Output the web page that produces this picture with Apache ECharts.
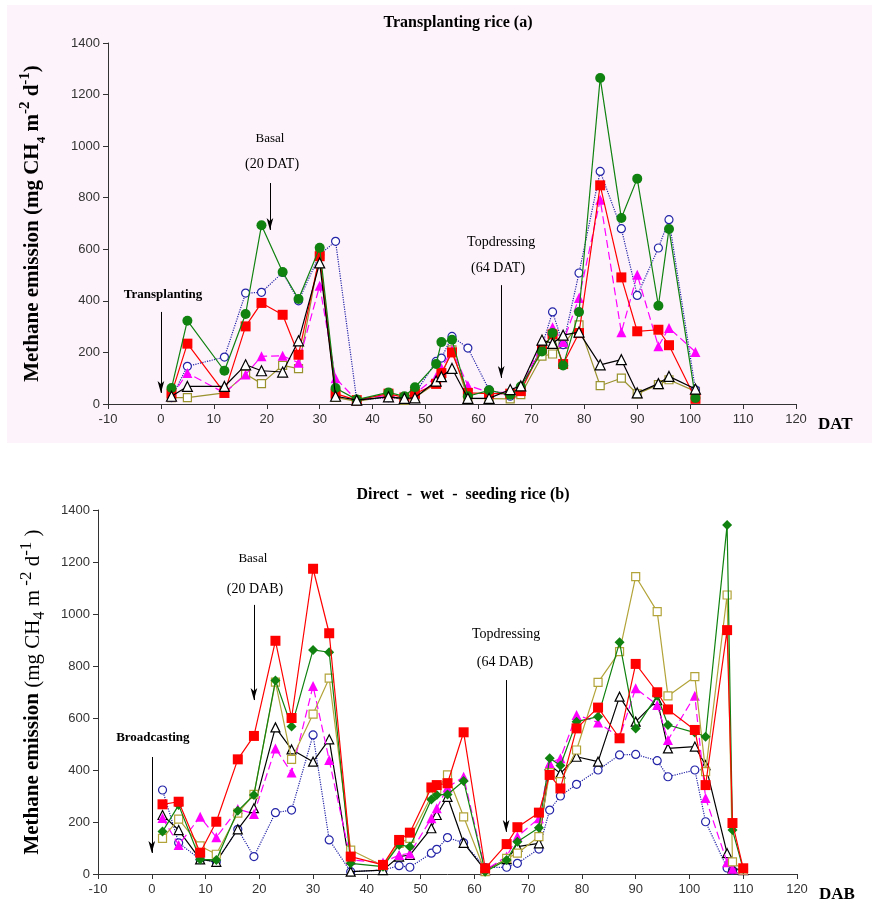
<!DOCTYPE html>
<html><head><meta charset="utf-8">
<script src="https://cdn.jsdelivr.net/npm/echarts@6/dist/echarts.min.js"></script>
<style>html,body{margin:0;padding:0;background:#fff}#c{width:872px;height:904px}</style>
</head><body><div id="c"></div>
<script>
// ---- Panel (a): Transplanting rice ----
const xA = [2,5,12,16,19,23,26,30,33,37,43,46,48,52,53,55,58,62,66,68,72,74,76,79,83,87,90,94,96,101];
const aGreen   = [62,323,129,349,693,512,407,606,62,17,45,30,65,155,240,249,30,53,36,68,204,275,149,357,1264,721,874,381,679,23];
const aRed     = [40,234,43,301,392,346,191,573,40,15,40,25,40,78,120,200,43,40,40,50,215,270,155,275,848,491,282,288,228,20];
const aMagenta = [30,120,43,114,185,187,160,459,100,15,35,25,40,105,140,209,72,45,45,60,235,298,240,411,792,278,501,224,295,202];
const aBlue    = [25,146,182,430,433,510,400,579,631,15,25,20,40,165,178,262,217,55,30,55,224,357,230,508,902,680,421,605,715,55];
const aBlack   = [30,68,68,152,129,124,245,547,30,15,28,22,24,89,106,138,22,22,56,70,248,235,267,279,152,172,43,79,107,58];
const aOlive   = [25,25,43,116,79,150,137,579,26,10,30,15,25,80,110,210,22,21,20,36,186,194,231,307,71,100,39,75,94,49];

// ---- Panel (b): Direct-wet-seeding rice ----
const xB = [2,5,9,12,16,19,23,26,30,33,37,43,46,48,52,53,55,58,62,66,68,72,74,76,79,83,87,90,94,96,101,103,107,108,110];
const bRed     = [268,278,82,201,441,531,897,600,1174,926,67,35,131,159,333,342,349,545,22,115,180,236,381,329,560,640,522,808,699,633,554,342,938,196,22];
const bGreen   = [163,265,56,54,243,304,744,567,862,853,41,28,112,105,287,304,306,358,9,54,124,178,445,417,586,605,891,560,686,573,544,528,1342,169,19];
const bOlive   = [137,211,108,76,234,306,738,441,615,753,92,32,118,137,300,323,381,220,9,60,80,144,390,355,477,737,855,1144,1009,685,759,394,1073,47,15];
const bMagenta = [215,112,220,141,250,231,483,390,723,438,54,44,73,79,214,253,333,374,15,67,144,214,426,445,612,583,526,714,650,515,686,292,45,20,15];
const bBlue    = [323,120,56,47,172,67,236,246,535,131,9,15,32,26,80,95,140,120,25,26,41,96,246,300,345,400,458,460,436,374,400,201,23,15,15];
const bBlack   = [227,169,56,47,172,253,564,479,432,518,9,15,67,73,176,227,297,120,15,57,105,118,419,387,451,432,682,586,669,483,490,419,80,22,15];

const xTicksMin = -10, xTicksMax = 120, xStep = 10;
const yTicksMin = 0, yTicksMax = 1400, yStep = 200;

// annotations (data coordinates)
const annA = [
  {x:0.4, y:423, text:'Transplanting', bold:true, size:13},
  {x:20.6, y:1031, text:'Basal', size:13},
  {x:21, y:930, text:'(20 DAT)', size:14},
  {x:64.3, y:628, text:'Topdressing', size:14},
  {x:63.7, y:527, text:'(64 DAT)', size:14}
];
const arrowsA = [[0,357,0,43],[20.6,857,20.6,675],[64.3,461,64.3,101]];
const annB = [
  {x:0.2, y:523, text:'Broadcasting', bold:true, size:13},
  {x:18.8, y:1215, text:'Basal', size:13},
  {x:19.2, y:1096, text:'(20 DAB)', size:14},
  {x:65.9, y:923, text:'Topdressing', size:14},
  {x:65.7, y:815, text:'(64 DAB)', size:14}
];
const arrowsB = [[0,450,0,81],[19,1035,19,669],[65.9,746,65.9,162]];

const pair = (xs, ys) => xs.map((x,i)=>[x, ys[i]]);
const serif = '"Liberation Serif","DejaVu Serif",serif';
const sans = '"Liberation Sans",Arial,sans-serif';

function xAxis(gi, name){
  return {gridIndex:gi, type:'value', min:xTicksMin, max:xTicksMax, interval:xStep,
    axisLine:{show:true, onZero:false, lineStyle:{color:'#333', width:1}},
    axisTick:{show:true, inside:false, length:5, lineStyle:{color:'#333'}},
    axisLabel:{color:'#333', fontSize:13, fontFamily:sans, margin:9, formatter:v=>String(v)},
    splitLine:{show:false},
    name:name, nameLocation:'end', nameGap:22,
    nameTextStyle:{fontFamily:serif, fontWeight:'bold', fontSize:17, color:'#000', verticalAlign:'top', padding:[12,0,0,0]}
  };
}
function yAxis(gi, name, gap, rich){
  return {gridIndex:gi, type:'value', min:yTicksMin, max:yTicksMax, interval:yStep,
    axisLine:{show:true, onZero:false, lineStyle:{color:'#333', width:1}},
    axisTick:{show:true, length:5, lineStyle:{color:'#333'}},
    axisLabel:{color:'#333', fontSize:13, fontFamily:sans, margin:8, formatter:v=>String(v)},
    splitLine:{show:false},
    name:name, nameLocation:'middle', nameGap:gap, nameRotate:90,
    nameTextStyle:{rich:rich}
  };
}
const richA = {
  b:{fontFamily:serif, fontWeight:'bold', fontSize:21, color:'#000', lineHeight:30},
  sub:{fontFamily:serif, fontWeight:'bold', fontSize:13, color:'#000', lineHeight:30, verticalAlign:'bottom'},
  sup:{fontFamily:serif, fontWeight:'bold', fontSize:15, color:'#000', lineHeight:30, verticalAlign:'top'}
};
const richB = {
  b:{fontFamily:serif, fontWeight:'bold', fontSize:21, color:'#000', lineHeight:30},
  r:{fontFamily:serif, fontSize:21, color:'#000', lineHeight:30},
  sub:{fontFamily:serif, fontSize:16, color:'#000', lineHeight:30, verticalAlign:'bottom'},
  sup:{fontFamily:serif, fontSize:17, color:'#000', lineHeight:30, verticalAlign:'top'}
};
const nameA = '{b|Methane emission (mg CH}{sub|4}{b| m}{sup|-2}{b| d}{sup|-1}{b|)}';
const nameB = '{b|Methane emission }{r|(mg CH}{sub|4}{r| m}{sup| -2}{r| d}{sup|-1}{r| )}';

function ser(gi, xs, ys, color, symbol, size, filled, lineType, z){
  return {type:'line', xAxisIndex:gi, yAxisIndex:gi, data:pair(xs, ys), z:z,
    symbol:symbol, symbolSize:size, showSymbol:true, animation:false,
    lineStyle:{color:color, width:1.2, type:lineType},
    itemStyle:{color: filled ? color : '#fff', borderColor:color, borderWidth: filled ? 0 : 1.2}
  };
}
function arrowSeries(gi, arrows){
  return {type:'line', xAxisIndex:gi, yAxisIndex:gi, data:[], silent:true, animation:false,
    markLine:{silent:true, animation:false, symbol:['none','arrow'], symbolSize:[5,12],
      lineStyle:{color:'#000', width:1, type:'solid'}, label:{show:false},
      data: arrows.map(a=>[{coord:[a[0],a[1]]},{coord:[a[2],a[3]]}])}
  };
}

const greenA='#0f820f', redA='#ff0000', magA='#ff00ff', blueA='#2424a8', blackA='#000000', oliveA='#99922e';
const oliveB='#b3a43a';

const series = [
  ser(0, xA, aOlive, oliveA, 'rect', 8, false, 'solid', 2),
  ser(0, xA, aBlue, blueA, 'circle', 8, false, 'dotted', 3),
  ser(0, xA, aMagenta, magA, 'triangle', 10, true, [8,4], 4),
  ser(0, xA, aRed, redA, 'rect', 10, true, 'solid', 5),
  ser(0, xA, aGreen, greenA, 'circle', 10, true, 'solid', 6),
  ser(0, xA, aBlack, blackA, 'triangle', 10, false, 'solid', 7),
  ser(1, xB, bBlue, blueA, 'circle', 8, false, 'dotted', 2),
  ser(1, xB, bBlack, blackA, 'triangle', 9, false, 'solid', 3),
  ser(1, xB, bMagenta, magA, 'triangle', 10, true, [8,4], 4),
  ser(1, xB, bOlive, oliveB, 'rect', 8, false, 'solid', 5),
  ser(1, xB, bGreen, greenA, 'diamond', 10, true, 'solid', 6),
  ser(1, xB, bRed, redA, 'rect', 10, true, 'solid', 7),
  arrowSeries(0, arrowsA),
  arrowSeries(1, arrowsB)
];

const chart = echarts.init(document.getElementById('c'), null, {renderer:'canvas'});
chart.setOption({
  animation:false,
  backgroundColor:'#ffffff',
  title:[
    {text:'Transplanting rice (a)', left:453, top:10, textAlign:'center',
      textStyle:{fontFamily:serif, fontWeight:'bold', fontSize:16, color:'#000'}},
    {text:'Direct  -  wet  -  seeding rice (b)', left:458, top:482, textAlign:'center',
      textStyle:{fontFamily:serif, fontWeight:'bold', fontSize:16, color:'#000'}}
  ],
  grid:[
    {left:108, top:43, width:688, height:361},
    {left:98, top:510, width:699, height:364}
  ],
  xAxis:[xAxis(0,'DAT'), xAxis(1,'DAB')],
  yAxis:[yAxis(0,nameA,60,richA), yAxis(1,nameB,50,richB)],
  series:series
});

const gfx = [{type:'rect', z:-10, silent:true, shape:{x:7,y:5,width:865,height:438}, style:{fill:'#fdf3fb'}}];
function addAnn(gi, list){
  list.forEach(a=>{
    const p = chart.convertToPixel({gridIndex:gi}, [a.x, a.y]);
    gfx.push({type:'text', z:50, x:p[0], y:p[1], silent:true,
      style:{text:a.text, fill:'#000', fontFamily:serif, fontSize:a.size, fontWeight:a.bold?'bold':'normal', align:'center', verticalAlign:'middle'}});
  });
}
addAnn(0, annA); addAnn(1, annB);
chart.setOption({graphic:gfx});
</script></body></html>
